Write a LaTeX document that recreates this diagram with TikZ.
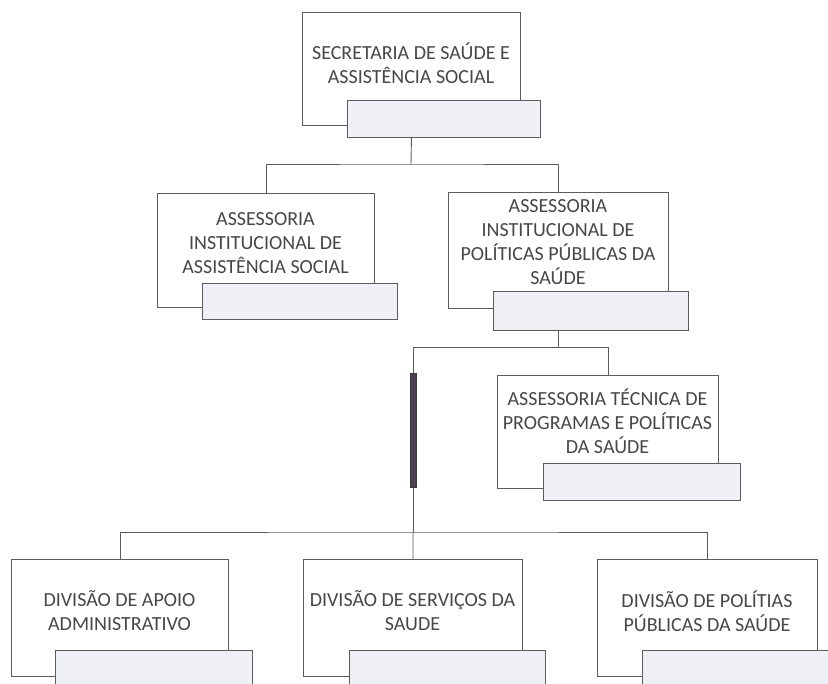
\documentclass[tikz,border=0pt]{standalone}
\usepackage{fontspec}
\setmainfont{Carlito}
\definecolor{linecol}{HTML}{5C5C5C}
\definecolor{txtcol}{HTML}{474747}
\definecolor{subfill}{HTML}{EEF0F5}
\definecolor{barcol}{HTML}{4B4250}
\begin{document}
\begin{tikzpicture}[x=1pt,y=-1pt,
  mainbox/.style={draw=linecol, line width=0.9pt, fill=white, rectangle, inner sep=0pt, anchor=north west},
  subbox/.style={draw=linecol, line width=0.9pt, fill=subfill, rectangle, inner sep=0pt, anchor=north west},
  lbl/.style={text=txtcol, align=center, inner sep=0pt, font=\fontsize{20}{24}\selectfont},
  conn/.style={draw=linecol, line width=0.9pt},
  barstyle/.style={fill=barcol, draw=barcol!80!black, line width=0.4pt, rectangle, inner sep=0pt, minimum width=6pt, minimum height=114pt}]
\useasboundingbox (0,0) rectangle (828,684);
\clip (0,0) rectangle (828,684);
\fill[white] (0,0) rectangle (828,684);

% boxes
\node[mainbox, minimum width=218pt, minimum height=113pt] (b1) at (302,12) {};
\node[subbox, minimum width=193pt, minimum height=37pt] (s1) at (347,100) {};
\node[lbl] (t1) at (411,63) {SECRETARIA DE SAÚDE E\\ASSISTÊNCIA SOCIAL};

\node[mainbox, minimum width=217pt, minimum height=114pt] (b2) at (157,193) {};
\node[subbox, minimum width=195pt, minimum height=36pt] (s2) at (202,283) {};
\node[lbl] (t2) at (265.5,243) {ASSESSORIA\\INSTITUCIONAL DE\\ASSISTÊNCIA SOCIAL};

\node[mainbox, minimum width=220pt, minimum height=116pt] (b3) at (448,192) {};
\node[subbox, minimum width=195pt, minimum height=39pt] (s3) at (493,291) {};
\node[lbl] (t3) at (558,242) {ASSESSORIA\\INSTITUCIONAL DE\\POLÍTICAS PÚBLICAS DA\\SAÚDE};

\node[mainbox, minimum width=221pt, minimum height=113pt] (b4) at (497,375) {};
\node[subbox, minimum width=197pt, minimum height=37pt] (s4) at (543,463) {};
\node[lbl] (t4) at (607.5,421) {ASSESSORIA TÉCNICA DE\\PROGRAMAS E POLÍTICAS\\DA SAÚDE};

\node[mainbox, minimum width=217pt, minimum height=117pt] (b5) at (11,559) {};
\node[subbox, minimum width=197pt, minimum height=45pt] (s5) at (55,650) {};
\node[lbl] (t5) at (119.5,611) {DIVISÃO DE APOIO\\ADMINISTRATIVO};

\node[mainbox, minimum width=219pt, minimum height=117pt] (b6) at (303,559) {};
\node[subbox, minimum width=196pt, minimum height=45pt] (s6) at (349,650) {};
\node[lbl] (t6) at (412.5,611) {DIVISÃO DE SERVIÇOS DA\\SAUDE};

\node[mainbox, minimum width=220pt, minimum height=117pt] (b7) at (597,559) {};
\node[subbox, minimum width=197pt, minimum height=45pt] (s7) at (642,650) {};
\node[lbl] (t7) at (707,611) {DIVISÃO DE POLÍTIAS\\PÚBLICAS DA SAÚDE};

% junctions
\coordinate (j1) at (411,164);
\coordinate (j2) at (413,347);
\coordinate (j3) at (413,532);

% connectors
\draw[conn] (s1.south -| b1.south) -- (j1);
\draw[conn] (b2.north) |- (j1) -| (b3.north);
\draw[conn] (s3.south -| b3.south) |- (j2);
\draw[conn] (j2) -| (b4.north);
\draw[conn] (j2) -- (j3);
\node[barstyle] (bar) at (413,430) {};
\draw[conn] (b5.north) |- (j3) -| (b7.north);
\draw[conn] (j3) -- (b6.north);
\end{tikzpicture}
\end{document}
